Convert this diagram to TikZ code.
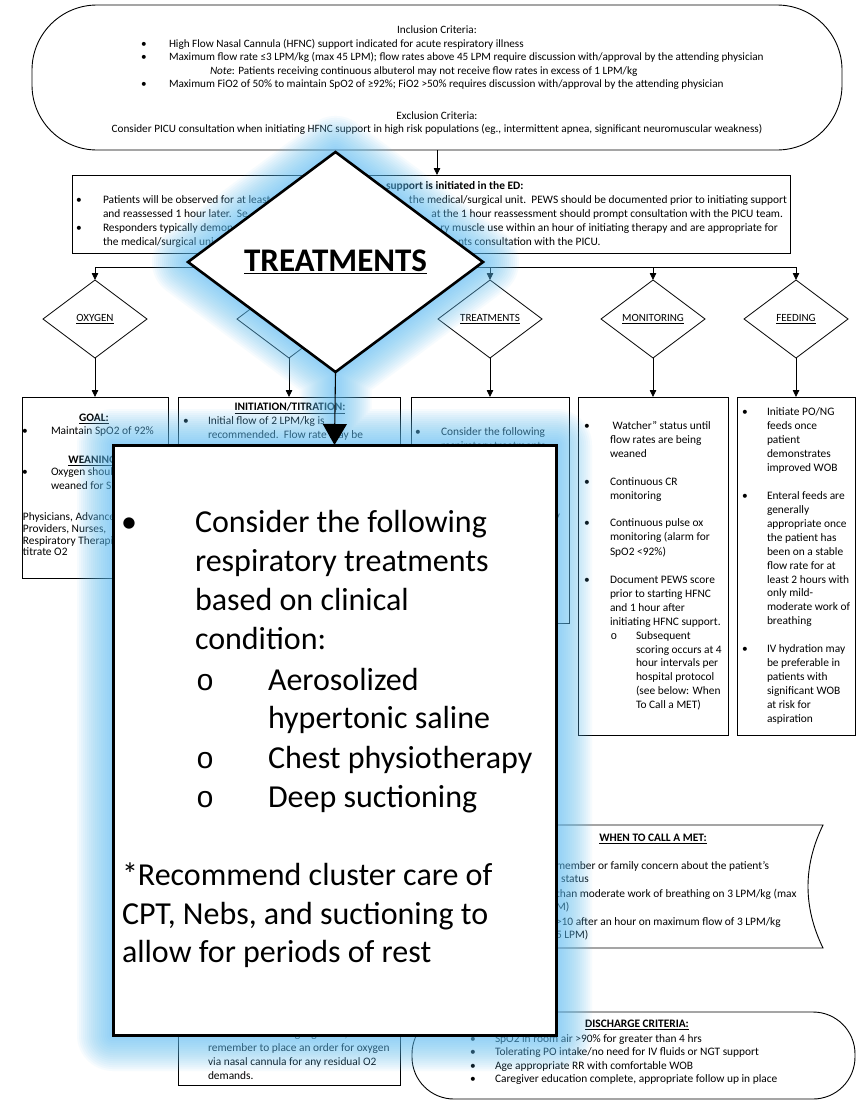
\documentclass[tikz,border=0pt]{standalone}
\usepackage{fontspec}
\setmainfont{Carlito}
\newfontfamily\subbulletfont{Liberation Mono}
\usetikzlibrary{arrows.meta,shapes.geometric}

\definecolor{glowblue}{RGB}{95,192,246}
\newcommand\fsz[2]{\fontsize{#1}{#2}\selectfont}
\newcommand\undl[1]{\underline{#1}}

\tikzset{
  every node/.style={inner sep=0pt, outer sep=0pt},
  tTop/.style={font=\fsz{11.2}{13.2}, text height=7.8pt, text depth=2.2pt},
  tBody/.style={font=\fsz{11.4}{13.9}, text height=7.9pt, text depth=2.3pt},
  tBig/.style={font=\fsz{32}{38.5}, text height=22pt, text depth=6.4pt},
  lft/.style={anchor=west},
  rgt/.style={anchor=east},
  frame/.style={draw, line width=0.9pt},
  colbox/.style={frame, anchor=north west},
  dia/.style={diamond, draw, line width=0.8pt, minimum width=104pt, minimum height=78pt, font=\fsz{11}{13}},
  conn/.style={draw, line width=0.8pt, -{Triangle[length=7pt,width=6.5pt]}},
}

\begin{document}
\begin{tikzpicture}[x=1pt,y=-1pt]
\fill[white] (0,0) rectangle (859,1103);
\useasboundingbox (0,0) rectangle (859,1103);

% ---------- inclusion / exclusion criteria ----------
\node[frame, rounded corners=65pt, minimum width=810pt, minimum height=145pt] (incl) at (437,77.5) {};
\node[tTop] (incT) at (437,31) {Inclusion Criteria:};
\foreach \y [count=\i] in {44.5,58,85} \node[tTop] (incB\i) at (144,\y) {•};
\node[tTop,lft] (inc1) at (169,44.5) {High Flow Nasal Cannula (HFNC) support indicated for acute respiratory illness};
\node[tTop,lft] (inc2) at (169,58) {Maximum flow rate ≤3 LPM/kg (max 45 LPM); flow rates above 45 LPM require discussion with/approval by the attending physician};
\node[tTop,lft] (inc3) at (210,71.5) {\textit{Note}: Patients receiving continuous albuterol may not receive flow rates in excess of 1 LPM/kg};
\node[tTop,lft] (inc4) at (169,85) {Maximum FiO2 of 50\% to maintain SpO2 of ≥92\%; FiO2 >50\% requires discussion with/approval by the attending physician};
\node[tTop] (excT) at (437,116.5) {Exclusion Criteria:};
\node[tTop] (exc1) at (437,129.5) {Consider PICU consultation when initiating HFNC support in high risk populations (eg., intermittent apnea, significant neuromuscular weakness)};

% ---------- ED box ----------
\node[frame, minimum width=718pt, minimum height=78pt, anchor=north west] (edbox) at (72,175) {};
\draw[conn] (incl.south) -- (incl.south |- edbox.north);
\node[tBody,lft,font=\fsz{11.4}{13.9}\bfseries] (edT) at (386,187) {support is initiated in the ED:};
\node[tBody] (edB1) at (79,201) {•};
\node[tBody] (edB2) at (79,229) {•};
\node[tBody,lft] (edL1) at (103,201) {Patients will be observed for at least};
\node[tBody,lft] (edL2) at (103,215) {and reassessed 1 hour later.\ \ Se};
\node[tBody,lft] (edL3) at (103,229) {Responders typically demon};
\node[tBody,lft] (edL4) at (103,243) {the medical/surgical uni};
\node[tBody,rgt] (edR1) at (787,201) {the medical/surgical unit.\ \ PEWS should be documented prior to initiating support};
\node[tBody,rgt] (edR2) at (783,215) {at the 1 hour reassessment should prompt consultation with the PICU team.};
\node[tBody,rgt] (edR3) at (778,229) {ry muscle use within an hour of initiating therapy and are appropriate for};
\node[tBody,lft] (edR4) at (458,243) {nts consultation with the PICU.};

% ---------- branch diamonds ----------
\node[dia] (dOxy) at (95,319) {\undl{OXYGEN}};
\node[dia] (dFlow) at (289,319) {};
\node[dia] (dTreat) at (490,319) {\undl{TREATMENTS}};
\node[dia] (dMon) at (653,319) {\undl{MONITORING}};
\node[dia] (dFeed) at (796,319) {\undl{FEEDING}};
\coordinate (bus) at (437,267);
\draw[line width=0.8pt] (edbox.south -| bus) -- (bus);
\draw[line width=0.8pt] (dOxy.north |- bus) -- (dFeed.north |- bus);
\foreach \d in {dOxy,dFlow,dTreat,dMon,dFeed} \draw[conn] (\d.north |- bus) -- (\d.north);

% ---------- column boxes ----------
\node[colbox, minimum width=146pt, minimum height=181pt] (bOxy) at (22,397) {};
\node[colbox, minimum width=222pt, minimum height=688pt] (bInit) at (178,397) {};
\node[colbox, minimum width=158pt, minimum height=226pt] (bTreat) at (411,397) {};
\node[colbox, minimum width=150pt, minimum height=338pt] (bMon) at (578,397) {};
\node[colbox, minimum width=118pt, minimum height=338pt] (bFeed) at (737,397) {};
\foreach \d/\b in {dOxy/bOxy,dFlow/bInit,dTreat/bTreat,dMon/bMon,dFeed/bFeed} \draw[conn] (\d.south) -- (\b.north);

% oxygen
\node[tBody,font=\fsz{11.4}{13.9}\bfseries] (oxG) at (94,419) {\undl{GOAL:}};
\node[tBody] (oxB1) at (25,432) {•};
\node[tBody,lft] (ox1) at (51,432) {Maintain SpO2 of 92\%};
\node[tBody,font=\fsz{11.4}{13.9}\bfseries] (oxW) at (94,461) {\undl{WEANING:}};
\node[tBody] (oxB2) at (25,473) {•};
\node[tBody,lft] (ox2) at (51,473) {Oxygen shoul};
\node[tBody,lft] (ox3) at (51,487) {weaned for Sp};
\foreach \y/\t [count=\i] in {518/{Physicians, Advance},530/{Providers, Nurses,},542/{Respiratory Therapi},553/{titrate O2}}
  \node[tBody,lft] (oxP\i) at (23,\y) {\t};

% initiation / titration
\node[tBody,font=\fsz{11.4}{13.9}\bfseries] (inT) at (290,408) {\undl{INITIATION/TITRATION:}};
\node[tBody] (inB1) at (186,422) {•};
\node[tBody,lft] (in1) at (208,422) {Initial flow of 2 LPM/kg is};
\node[tBody,lft] (in2) at (208,436) {recommended.\ \ Flow rate may be};
\node[tBody] (inB2) at (186,1035) {•};
\foreach \y/\t [count=\i] in {1035/{When discontinuing high flow,},1049/{remember to place an order for oxygen},1063/{via nasal cannula for any residual O2},1077/{demands.}}
  \node[tBody,lft] (inE\i) at (208,\y) {\t};

% treatments
\node[tBody] (trB1) at (418,433) {•};
\node[tBody,lft] (tr1) at (441,433) {Consider the following};
\node[tBody,lft] (tr2) at (441,447) {respiratory treatments};
\node[tBody,lft] (tr3) at (466,517) {Chest physiotherapy};

% monitoring
\foreach \y [count=\i] in {427,483,524,581} \node[tBody] (moB\i) at (587,\y) {•};
\foreach \y/\t [count=\i] in {427/{\ Watcher” status until},441/{flow rates are being},455/{weaned},483/{Continuous CR},497/{monitoring},524/{Continuous pulse ox},538/{monitoring (alarm for},553/{SpO2 <92\%)},581/{Document PEWS score},595/{prior to starting HFNC},609/{and 1 hour after},623/{initiating HFNC support.}}
  \node[tBody,lft] (mo\i) at (610,\y) {\t};
\node[tBody,font=\subbulletfont\fsz{11}{13}] (moO) at (614,637) {o};
\foreach \y/\t [count=\i] in {637/{Subsequent},651/{scoring occurs at 4},664/{hour intervals per},678/{hospital protocol},692/{(see below: When},706/{To Call a MET)}}
  \node[tBody,lft] (moS\i) at (636,\y) {\t};

% feeding
\foreach \y [count=\i] in {413,497,650} \node[tBody] (feB\i) at (745,\y) {•};
\foreach \y/\t [count=\i] in {413/{Initiate PO/NG},427/{feeds once},441/{patient},455/{demonstrates},469/{improved WOB},497/{Enteral feeds are},511/{generally},525/{appropriate once},539/{the patient has},553/{been on a stable},567/{flow rate for at},581/{least 2 hours with},594/{only mild-},608/{moderate work of},622/{breathing},650/{IV hydration may},664/{be preferable in},678/{patients with},692/{significant WOB},706/{at risk for},720/{aspiration}}
  \node[tBody,lft] (fe\i) at (767,\y) {\t};

% ---------- when to call a MET ----------
\draw[frame] (470,825) -- (823,825) .. controls (803,866) and (803,907) .. (823,948) -- (470,948) .. controls (450,907) and (450,866) .. (470,825) -- cycle;
\node[tBody,font=\fsz{11.4}{13.9}\bfseries] (metT) at (653,839) {\undl{WHEN TO CALL A MET:}};
\foreach \y/\t [count=\i] in {867/{member or family concern about the patient’s},880/{l status},895/{than moderate work of breathing on 3 LPM/kg (max},908/{M)},923/{>10 after an hour on maximum flow of 3 LPM/kg},936/{5 LPM)}}
  \node[tBody,lft] (met\i) at (556,\y) {\t};

% ---------- discharge criteria ----------
\node[frame, rounded corners=42pt, minimum width=443pt, minimum height=87pt, anchor=north west] (disch) at (412,1012) {};
\node[tBody,font=\fsz{11.4}{13.9}\bfseries] (diT) at (637,1025) {\undl{DISCHARGE CRITERIA:}};
\foreach \y/\t [count=\i] in {1039.5/{SpO2 in room air >90\% for greater than 4 hrs},1053/{Tolerating PO intake/no need for IV fluids or NGT support},1066.5/{Age appropriate RR with comfortable WOB},1080/{Caregiver education complete, appropriate follow up in place}}{
  \node[tBody] (diB\i) at (473,\y) {•};
  \node[tBody,lft] (di\i) at (495,\y) {\t};
}

% ---------- soft glow around the enlarged callout ----------
\foreach \w in {4,8,...,72}
  \draw[glowblue, line width=\w pt, opacity=0.055, line join=round, line cap=round]
    (335.5,152) -- (483,262) -- (335.5,372) -- (188,262) -- cycle
    (335.5,372) -- (335.5,445)
    (113,445) rectangle (556,1035);

% ---------- enlarged TREATMENTS callout ----------
\node[diamond, draw, line width=2.6pt, fill=white, minimum width=295pt, minimum height=220pt,
      font=\fsz{33}{39}\bfseries] (bigD) at (335.5,262) {\undl{TREATMENTS}};
\node[draw, line width=3pt, fill=white, anchor=north west, minimum width=443pt, minimum height=590pt] (bigB) at (113,445) {};
\draw[line width=1.1pt, -{Triangle[length=21pt,width=24pt]}] (bigD.south) -- (bigB.north);

\node[tBig] (bgB) at (129,525) {•};
\foreach \y/\t [count=\i] in {525/{Consider the following},564/{respiratory treatments},603/{based on clinical},642/{condition:}}
  \node[tBig,lft] (bg\i) at (195,\y) {\t};
\foreach \y [count=\i] in {683,761,800} \node[tBig,font=\subbulletfont\fsz{30}{36}] (bgO\i) at (205,\y) {o};
\foreach \y/\t [count=\i] in {683/{Aerosolized},721/{hypertonic saline},761/{Chest physiotherapy},800/{Deep suctioning}}
  \node[tBig,lft] (bgS\i) at (268,\y) {\t};
\foreach \y/\t [count=\i] in {878/{*Recommend cluster care of},917/{CPT, Nebs, and suctioning to},955/{allow for periods of rest}}
  \node[tBig,lft] (bgN\i) at (122,\y) {\t};

\end{tikzpicture}
\end{document}
